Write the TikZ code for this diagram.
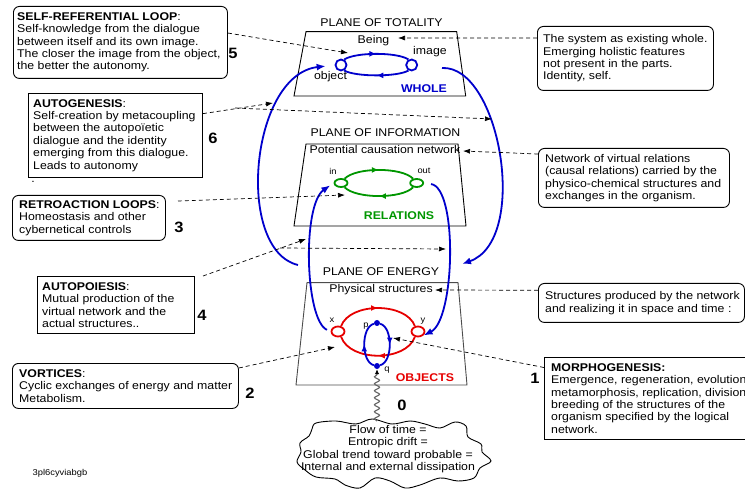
\documentclass[tikz,border=0pt]{standalone}
\usepackage{fontspec}
\setmainfont{Liberation Sans}[FakeStretch=1.1]
\usetikzlibrary{arrows.meta,shapes.geometric,decorations.pathmorphing,decorations.markings}
\definecolor{myblue}{RGB}{0,0,204}
\definecolor{mygreen}{RGB}{0,150,0}
\definecolor{myred}{RGB}{230,0,0}
\tikzset{
  txt/.style={font=\fontsize{11.2}{12.4}\selectfont, inner sep=0pt, align=left},
  ctxt/.style={font=\fontsize{11.2}{12.4}\selectfont, inner sep=0pt, align=center},
  lbl/.style={font=\fontsize{11.2}{12.4}\selectfont, inner sep=0pt, text height=8pt, text depth=2.4pt},
  blbl/.style={font=\fontsize{11.2}{12.4}\selectfont\bfseries, inner sep=0pt, text height=8pt, text depth=2.4pt},
  slbl/.style={font=\fontsize{8.5}{9}\selectfont, inner sep=0pt, text height=6pt, text depth=1.8pt},
  rbox/.style={draw, line width=0.9pt, rounded corners=6pt, inner sep=0pt, anchor=north west},
  sbox/.style={draw, line width=0.9pt, inner sep=0pt, anchor=north west},
  num/.style={font=\fontsize{15}{15}\selectfont\bfseries, inner sep=0pt},
  plane/.style={draw, line width=0.9pt},
  darrow/.style={draw, dash pattern=on 4pt off 3pt, line width=0.7pt, -{Latex[length=7pt,width=5pt]}},
  barrow/.style={draw=myblue, line width=1.8pt, -{Latex[length=9pt,width=7pt]}},
  loopline/.style={line width=1.8pt, postaction={decorate}, decoration={markings, mark=at position 0.5 with {\arrow{Latex[length=7pt,width=6pt]}}}},
  ring/.style={draw, line width=1.8pt, inner sep=0pt},
}
\begin{document}
\begin{tikzpicture}[x=1pt,y=-1pt]
\useasboundingbox (0,0) rectangle (745,489);

% ---------- planes ----------
\draw[plane] (306,31.7) -- (456.7,31.7) -- (465.7,96) -- (294,96) -- cycle;
\draw[plane] (306,144) -- (458,144) -- (466,226) -- (294,226) -- cycle;
\draw[plane, draw=black!70] (307,282.7) -- (458,282.7) -- (467,385) -- (296,385) -- cycle;
\node[lbl] (ptot) at (381.5,23.5) {PLANE OF TOTALITY};
\node[lbl] (pinf) at (385.5,133.5) {PLANE OF INFORMATION};
\node[lbl] (pen) at (381,273) {PLANE OF ENERGY};

% ---------- whole ----------
\node[lbl] (being) at (373.5,41) {Being};
\node[lbl] (imagel) at (430,52) {image};
\node[lbl] (objl) at (330.5,77) {object};
\node[blbl, text=myblue] (whole) at (424,89.5) {WHOLE};
\node[ring, draw=myblue, circle, minimum size=11pt] (obj) at (341,65) {};
\node[ring, draw=myblue, circle, minimum size=11pt] (img) at (411.7,65) {};
\draw[loopline, myblue] (obj.60) .. controls (356,52) and (397,52) .. (img.120);
\draw[loopline, myblue] (img.-120) .. controls (397,77) and (356,77) .. (obj.-60);

% ---------- relations ----------
\node[lbl] (pcn) at (385,151) {Potential causation network};
\node[slbl] (inl) at (333,172) {in};
\node[slbl] (outl) at (424,171) {out};
\node[blbl, text=mygreen] (rel) at (399,217) {RELATIONS};
\node[ring, draw=mygreen, ellipse, minimum width=13pt, minimum height=8pt] (inn) at (341,183) {};
\node[ring, draw=mygreen, ellipse, minimum width=13pt, minimum height=8pt] (outn) at (416.7,183) {};
\draw[loopline, mygreen] (inn.50) .. controls (356,167) and (402,167) .. (outn.130);
\draw[loopline, mygreen] (outn.-130) .. controls (402,199) and (356,199) .. (inn.-50);

% ---------- objects ----------
\node[lbl] (phys) at (381,290) {Physical structures};
\node[slbl] (xl) at (332,320) {x};
\node[slbl] (yl) at (423,320) {y};
\node[slbl] (pl) at (366,325) {p};
\node[slbl] (ql) at (387,369) {q};
\node[blbl, text=myred] (objs) at (425,379) {OBJECTS};
\node[ring, draw=myred, ellipse, minimum width=13pt, minimum height=10pt] (xc) at (338,331.5) {};
\node[ring, draw=myred, ellipse, minimum width=13pt, minimum height=10pt] (yc) at (418,331.5) {};
\draw[loopline, myred] (xc.60) .. controls (350,302) and (406,302) .. (yc.120);
\draw[loopline, myred] (yc.-120) .. controls (406,362) and (350,362) .. (xc.-60);
\node[circle, fill=myblue, minimum size=6pt, inner sep=0pt] (p) at (377,323) {};
\node[circle, fill=myblue, minimum size=6pt, inner sep=0pt] (q) at (377,366) {};
\draw[loopline, myblue] (q) .. controls (361,362) and (361,327) .. (p);
\draw[loopline, myblue] (p) .. controls (393,327) and (393,362) .. (q);

% ---------- big blue arrows ----------
\coordinate (cA0) at (298,265);
\coordinate (cB0) at (442,68);
\coordinate (cB1) at (462,264);
\draw[barrow, shorten >=9pt] (cA0) .. controls (235,250) and (250,75) .. (obj.west);
\draw[barrow] (cB0) .. controls (500,65) and (530,240) .. (cB1);
\draw[barrow, shorten <=4pt, shorten >=4pt] (xc.west) .. controls (305,320) and (302,205) .. (inn.west);
\draw[barrow, shorten <=7pt] (outn.east) .. controls (458,188) and (455,320) .. (yc.-35);

% ---------- cloud ----------
\draw[line width=0.9pt] plot[smooth cycle, tension=0.55] coordinates {
 (316,423) (336,421) (356,424) (372,419) (392,424) (410,421) (425,424) (440,428)
 (455,422) (466,426) (468,437) (481,444) (482,452) (491,461) (480,468) (474,478)
 (458,481) (440,478) (420,485) (405,488) (390,481) (375,478) (360,488) (345,485)
 (335,479) (316,477) (305,470) (297,462) (301,452) (300,443) (309,436) (312,429)};
\node[ctxt] (cloudtxt) at (388,449) {Flow of time =\\Entropic drift =\\Global trend toward probable =\\Internal and external dissipation};
\coordinate (ctop) at (377,421);
\draw[draw=black!60, line width=1.2pt, decorate, decoration={snake, amplitude=2.5pt, segment length=7pt, post length=5pt}, -{Latex[length=5pt,width=4.5pt,color=black]}] (ctop) -- (q);
\node[num] (n0) at (402,405) {0};

% ---------- left boxes ----------
\node[rbox, minimum width=214pt, minimum height=72pt] (selfref) at (13,6) {};
\node[txt, anchor=west] (selfreft) at ([xshift=4pt]selfref.west) {\textbf{SELF-REFERENTIAL LOOP}:\\Self-knowledge from the dialogue\\between itself and its own image.\\The closer the image from the object,\\the better the autonomy.};
\node[num] (n5) at (233,53) {5};

\node[sbox, minimum width=174pt, minimum height=84pt] (autogen) at (28,93) {};
\node[txt, anchor=west] (autogent) at ([xshift=5pt]autogen.west) {\textbf{AUTOGENESIS}:\\Self-creation by metacoupling\\between the autopoïetic\\dialogue and the identity\\emerging from this dialogue.\\Leads to autonomy};
\node[lbl] (dot) at (33,180) {.};
\node[num] (n6) at (213,138) {6};

\node[rbox, minimum width=153pt, minimum height=45pt] (retro) at (12,195) {};
\node[txt, anchor=west] (retrot) at ([xshift=7pt]retro.west) {\textbf{RETROACTION LOOPS}:\\Homeostasis and other\\cybernetical controls};
\node[num] (n3) at (179,227) {3};

\node[sbox, minimum width=157pt, minimum height=57pt] (autopoi) at (37,276) {};
\node[txt, anchor=west] (autopoit) at ([xshift=5pt]autopoi.west) {\textbf{AUTOPOIESIS}:\\Mutual production of the\\virtual network and the\\actual structures..};
\node[num] (n4) at (202,315) {4};

\node[rbox, minimum width=226pt, minimum height=45pt] (vort) at (12,363) {};
\node[txt, anchor=west] (vortt) at ([xshift=7pt]vort.west) {\textbf{VORTICES}:\\Cyclic exchanges of energy and matter\\Metabolism.};
\node[num] (n2) at (250,393) {2};

\node[font=\fontsize{8.5}{9}\selectfont, inner sep=0pt] (code) at (60,473) {3pl6cyviabgb};

% ---------- right boxes ----------
\node[rbox, minimum width=176pt, minimum height=64pt] (system) at (537,26) {};
\node[txt, anchor=west] (systemt) at ([xshift=6pt]system.west) {The system as existing whole.\\Emerging holistic features\\not present in the parts.\\Identity, self.};

\node[rbox, minimum width=191pt, minimum height=59pt] (netbox) at (538,148) {};
\node[txt, anchor=west] (netboxt) at ([xshift=7pt]netbox.west) {Network of virtual relations\\(causal relations) carried by the\\physico-chemical structures and\\exchanges in the organism.};

\node[rbox, minimum width=206pt, minimum height=39pt] (structbox) at (538,283) {};
\node[txt, anchor=west] (structboxt) at ([xshift=7pt]structbox.west) {Structures produced by the network\\and realizing it in space and time :};

\node[sbox, minimum width=230pt, minimum height=82pt] (morph) at (544,357) {};
\node[txt, anchor=west] (morpht) at ([xshift=7pt]morph.west) {\textbf{MORPHOGENESIS:}\\Emergence, regeneration, evolution,\\metamorphosis, replication, division,\\breeding of the structures of the\\organism specified by the logical\\network.};
\node[num] (n1) at (535,378) {1};

% ---------- dashed arrows ----------
\coordinate (t1) at (348,53);
\coordinate (t2) at (398,38);
\coordinate (t3a) at (273,103);
\coordinate (b3) at (235,108);
\coordinate (t3b) at (492,119);
\coordinate (t4) at (463,151);
\coordinate (s5) at (178,201);
\coordinate (t5) at (345,195);
\coordinate (s6) at (203,276);
\coordinate (t6a) at (306,239);
\coordinate (b6) at (280,248);
\coordinate (t6b) at (446,249);
\coordinate (t7) at (435,290);
\coordinate (t8) at (335,347);
\coordinate (t9) at (393,338);
\draw[darrow] (selfref.5) -- (t1);
\draw[darrow] (system.167) -- (t2);
\draw[darrow] (autogen.14) -- (t3a);
\draw[darrow] (b3) -- (t3b);
\draw[darrow] (netbox.166) -- (t4);
\draw[darrow] (s5) -- (t5);
\draw[darrow] (s6) -- (t6a);
\draw[darrow] (b6) -- (t6b);
\draw[darrow] (structbox.173) -- (t7);
\draw[darrow] (vort.9) -- (t8);
\draw[darrow] (morph.165) -- (t9);
\end{tikzpicture}
\end{document}
